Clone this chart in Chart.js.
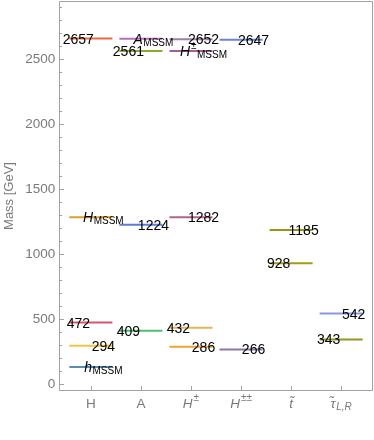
<!DOCTYPE html>
<html><head><meta charset="utf-8">
<script src="https://cdn.jsdelivr.net/npm/chart.js@4/dist/chart.umd.min.js"></script>
<style>html,body{margin:0;padding:0;background:#fff}#wrap{width:374px;height:440px}</style>
</head><body><div id="wrap"><canvas id="c" width="374" height="440"></canvas></div>
<script>
// ---- categories (x axis) ----
const categories     = ['H', 'A', 'H', 'H', 't\u0303', '\u03c4\u0303'];
const categorySup    = ['', '', '±', '±±', '', ''];
const categorySub    = ['', '', '', '', '', 'L,R'];
const categoryItalic = [false, false, true, true, true, true];

// ---- mass levels ----
const levelColumn = [1, 1, 1, 1, 1,   2, 2, 2, 2,   3, 3, 3, 3, 3,   4, 4,   5, 5,   6, 6];
const levelMass   = [2657, 1282, 472, 294, 130,   2655, 2561, 1224, 409,   2652, 2562, 1282, 432, 286,   2647, 266,   1185, 928,   542, 343];
const levelText   = ['2657', 'H', '472', '294', 'h',   'A', '2561', '1224', '409',   '2652', 'H', '1282', '432', '286',   '2647', '266',   '1185', '928',   '542', '343'];
const levelSup    = ['', '', '', '', '',   '', '', '', '',   '', '±', '', '', '',   '', '',   '', '',   '', ''];
const levelSub    = ['', 'MSSM', '', '', 'MSSM',   'MSSM', '', '', '',   '', 'MSSM', '', '', '',   '', '',   '', '',   '', ''];
const levelSide   = ['L', 'R', 'L', 'R', 'R',   'R', 'L', 'R', 'L',   'R', 'R', 'R', 'L', 'R',   'R', 'R',   'R', 'L',   'R', 'L'];
const levelColor  = ['#ea6a40', '#d99d32', '#d2566e', '#f2c440', '#5a8cb8',
                     '#bb6cbb', '#8aa832', '#5a7ed2', '#4cc070',
                     '#9c80a6', '#a85c98', '#b2638c', '#e9b255', '#f2a22e',
                     '#6a84d0', '#8a78a6',
                     '#9a9812', '#a49a16',
                     '#8a98e0', '#9a9420'];

// ---- axes ----
const yTicks = [0, 500, 1000, 1500, 2000, 2500];
const yMinorStep = 100;
const yRange = [-54, 2946];
const xRange = [0.37, 6.63];

const HALF = 0.43, LABEL_OFF = 0.25;
const FONT = '"Liberation Sans", Arial, sans-serif';
const GRAY = '#7a7a7a';
const FRAME = '#a2a2a2';

function drawRich(ctx, cx, cy, main, sup, sub, italic, size, small, subItalic, color) {
  ctx.fillStyle = color;
  ctx.textBaseline = 'alphabetic';
  ctx.textAlign = 'left';
  const yb = cy + 0.358 * size;
  ctx.font = (italic ? 'italic ' : '') + size + 'px ' + FONT;
  const mw = ctx.measureText(main).width;
  let supW = 0, subW = 0;
  ctx.font = small + 'px ' + FONT;
  if (sup) supW = ctx.measureText(sup).width + 1;
  ctx.font = (subItalic ? 'italic ' : '') + small + 'px ' + FONT;
  if (sub) subW = ctx.measureText(sub).width + 0.5;
  let x = cx - (mw + supW + subW) / 2;
  ctx.font = (italic ? 'italic ' : '') + size + 'px ' + FONT;
  ctx.fillText(main, x, yb);
  x += mw;
  if (sup) {
    ctx.font = small + 'px ' + FONT;
    ctx.fillText(sup, x + 1, yb - 6.5);
    x += supW;
  }
  if (sub) {
    ctx.font = (subItalic ? 'italic ' : '') + small + 'px ' + FONT;
    ctx.fillText(sub, x + 0.5, yb + 2);
  }
}

const levelPlugin = {
  id: 'levels',
  afterDatasetsDraw(chart) {
    const {ctx, chartArea: a, scales: {x, y}} = chart;
    ctx.save();
    // frame
    ctx.strokeStyle = FRAME; ctx.lineWidth = 1;
    const L = Math.round(a.left) + 0.5, R = Math.round(a.right) - 0.5;
    const T = Math.round(a.top) + 0.5, B = Math.round(a.bottom) - 0.5;
    ctx.beginPath();
    ctx.rect(L, T, R - L, B - T);
    ctx.stroke();
    // y ticks (inward)
    ctx.beginPath();
    for (let v = 0; v <= yRange[1]; v += yMinorStep) {
      const py = Math.round(y.getPixelForValue(v)) + 0.5;
      const len = yTicks.includes(v) ? 4.5 : 2.5;
      ctx.moveTo(L, py); ctx.lineTo(L + len, py);
    }
    // x ticks (inward)
    categories.forEach((c, i) => {
      const px = Math.round(x.getPixelForValue(i + 1)) + 0.5;
      ctx.moveTo(px, B); ctx.lineTo(px, B - 4.5);
    });
    ctx.stroke();
    // level labels
    levelMass.forEach((m, k) => {
      const cx = x.getPixelForValue(levelColumn[k] + (levelSide[k] === 'L' ? -LABEL_OFF : LABEL_OFF));
      const cy = y.getPixelForValue(m);
      drawRich(ctx, cx, cy, levelText[k], levelSup[k], levelSub[k], !!levelSub[k], 14, 10, false, '#000');
    });
    // category labels
    categories.forEach((c, i) => {
      const cx = x.getPixelForValue(i + 1);
      drawRich(ctx, cx, 403, c, categorySup[i], categorySub[i], categoryItalic[i], 13.5, 10, true, GRAY);
    });
    ctx.restore();
  }
};

const datasets = levelMass.map((m, k) => ({
  data: [{x: levelColumn[k] - HALF, y: m}, {x: levelColumn[k] + HALF, y: m}],
  borderColor: levelColor[k],
  borderWidth: 2,
  pointRadius: 0,
  fill: false,
  tension: 0
}));

new Chart(document.getElementById('c'), {
  type: 'line',
  data: {datasets},
  options: {
    responsive: false,
    animation: false,
    events: [],
    layout: {padding: {top: 1, right: 1.3, left: 0, bottom: 0}},
    plugins: {legend: {display: false}, tooltip: {enabled: false}},
    scales: {
      x: {
        type: 'linear', min: xRange[0], max: xRange[1],
        grid: {display: false, drawTicks: false},
        border: {display: false},
        ticks: {display: false},
        afterFit(s) { s.height = 49; s.paddingLeft = 0; s.paddingRight = 0; }
      },
      y: {
        type: 'linear', min: yRange[0], max: yRange[1],
        grid: {display: false, drawTicks: false},
        border: {display: false},
        afterBuildTicks(s) { s.ticks = yTicks.map(v => ({value: v})); },
        ticks: {color: GRAY, padding: 4, font: {family: FONT, size: 13.5}, callback: v => String(v)},
        title: {display: true, text: 'Mass [GeV]', color: GRAY, font: {family: FONT, size: 13}, padding: {top: 2, bottom: 0}},
        afterFit(s) { s.width = 59.3; s.paddingTop = 0; s.paddingBottom = 0; }
      }
    }
  },
  plugins: [levelPlugin]
});
</script>
</body></html>
